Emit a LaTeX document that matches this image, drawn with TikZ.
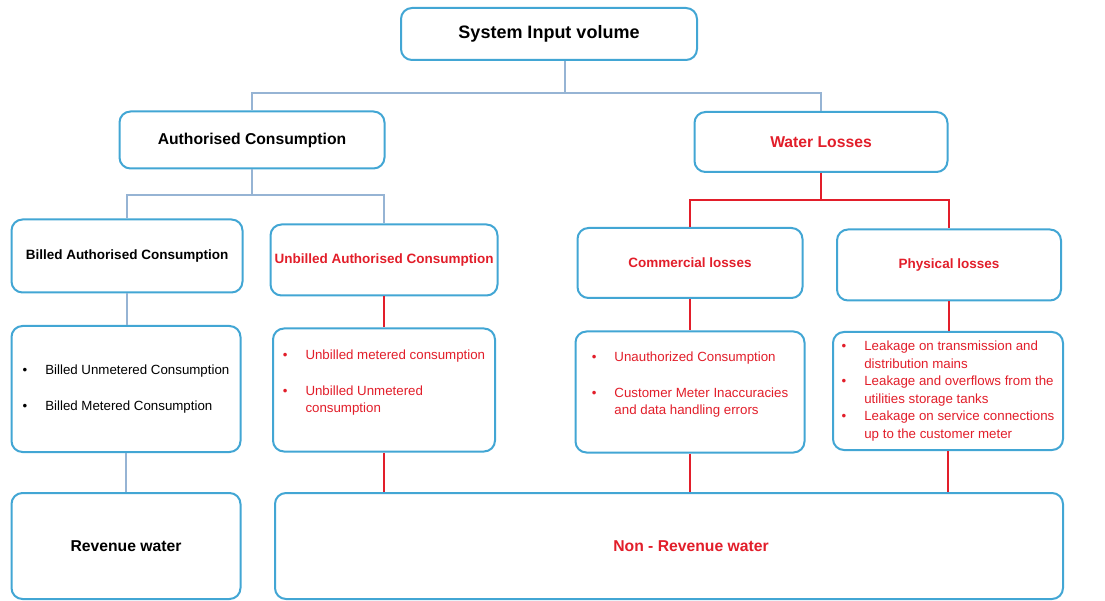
\documentclass[tikz,border=0pt]{standalone}
\usepackage{fontspec}
\setmainfont{Liberation Sans}
\definecolor{boxblue}{RGB}{66,166,212}
\definecolor{linkblue}{RGB}{150,180,212}
\definecolor{lossred}{RGB}{226,30,42}
\newcommand{\lst}[1]{\renewcommand\arraystretch{1.2}\begin{tabular}{@{}l@{\hspace{18pt}}l@{}}#1\end{tabular}}

\begin{document}
\begin{tikzpicture}[x=1pt, y=-1pt,
  bx/.style={draw=boxblue, line width=2pt, rounded corners=11pt, fill=white, align=center, inner sep=0pt},
  hd/.style={bx, font=\bfseries\fontsize{13.5}{15.5}\selectfont},
  big/.style={bx, font=\bfseries\fontsize{15.7}{18}\selectfont},
  ls/.style={bx, font=\fontsize{13.3}{14.6}\selectfont},
  bl/.style={draw=linkblue, line width=1.3pt},
  rd/.style={draw=lossred, line width=1.3pt}]
  \useasboundingbox (0,0) rectangle (1105,601);
  \node[big, minimum width=296, minimum height=52, font=\bfseries\fontsize{18}{20}\selectfont] (siv) at (549,34) {System Input volume};
  \node[big, minimum width=265, minimum height=57] (ac) at (252,140) {Authorised Consumption};
  \node[big, minimum width=253, minimum height=60, text=lossred] (wl) at (821,142) {Water Losses};
  \node[hd, minimum width=231, minimum height=73] (bac) at (127,256) {Billed Authorised Consumption};
  \node[hd, minimum width=227, minimum height=71, text=lossred] (ubac) at (384,260) {Unbilled Authorised Consumption};
  \node[hd, minimum width=225, minimum height=70, text=lossred] (cl) at (690,263) {Commercial losses};
  \node[hd, minimum width=224, minimum height=71, text=lossred] (pl) at (949,265) {Physical losses};
  \node[ls, minimum width=229, minimum height=126] (bacl) at (126,389) {\lst{%
    \textbullet & Billed Unmetered Consumption\\[18pt]
    \textbullet & Billed Metered Consumption}};
  \node[ls, minimum width=222, minimum height=123, text=lossred] (ubacl) at (384,390) {\lst{%
    \textbullet & Unbilled metered consumption\\[18pt]
    \textbullet & Unbilled Unmetered\\
    & consumption}\\[14pt]};
  \node[ls, minimum width=229, minimum height=121, text=lossred] (cll) at (690,392) {\lst{%
    \textbullet & Unauthorized Consumption\\[18pt]
    \textbullet & Customer Meter Inaccuracies\\
    & and data handling errors}\\[14pt]};
  \node[ls, minimum width=230, minimum height=118, text=lossred] (pll) at (948,391) {\lst{%
    \textbullet & Leakage on transmission and\\
    & distribution mains\\
    \textbullet & Leakage and overflows from the\\
    & utilities storage tanks\\
    \textbullet & Leakage on service connections\\
    & up to the customer meter}};
  \node[big, minimum width=229, minimum height=106] (rw) at (126,546) {Revenue water};
  \node[bx, minimum width=788, minimum height=106,
    label={[font=\bfseries\fontsize{15.7}{18}\selectfont, text=lossred, xshift=22pt]center:Non - Revenue water}] (nrw) at (669,546) {};
  \coordinate (j1) at (565,93);
  \coordinate (j2) at (252,195);
  \coordinate (j3) at (821,200);
  \draw[bl] (siv.south -| j1) -- (j1) -| (ac.north);
  \draw[bl] (j1) -| (wl.north);
  \draw[bl] (ac.south) -- (j2) -| (bac.north);
  \draw[bl] (j2) -| (ubac.north);
  \draw[rd] (wl.south) -- (j3) -| (cl.north);
  \draw[rd] (j3) -| (pl.north);
  \draw[bl] (bac.south) -- (bac.south |- bacl.north);
  \draw[bl] (bacl.south) -- (bacl.south |- rw.north);
  \draw[rd] (ubac.south) -- (ubac.south |- ubacl.north);
  \draw[rd] (ubacl.south) -- (ubacl.south |- nrw.north);
  \draw[rd] (cl.south) -- (cl.south |- cll.north);
  \draw[rd] (cll.south) -- (cll.south |- nrw.north);
  \draw[rd] (pl.south) -- (pl.south |- pll.north);
  \draw[rd] (pll.south) -- (pll.south |- nrw.north);
\end{tikzpicture}
\end{document}
